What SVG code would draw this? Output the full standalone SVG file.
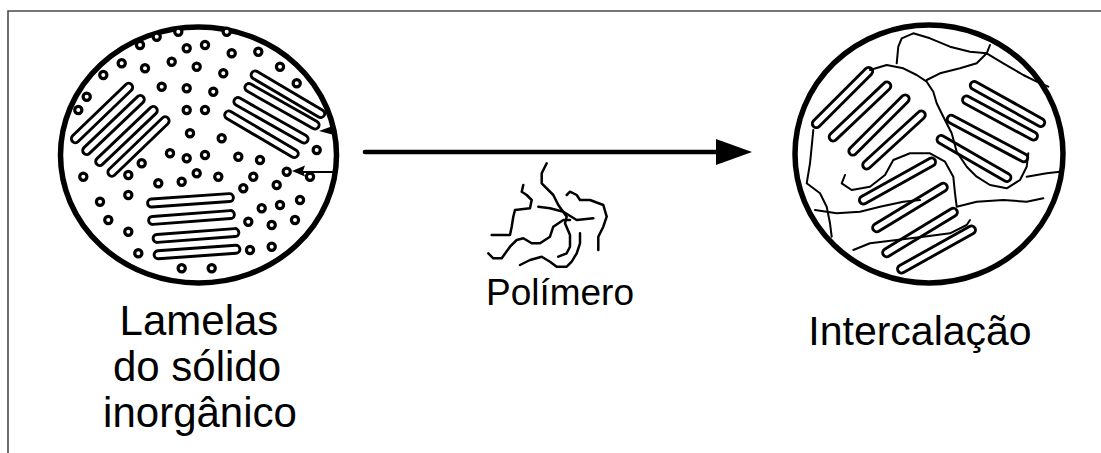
<svg xmlns="http://www.w3.org/2000/svg" width="1101" height="453" viewBox="0 0 1101 453">
  <style>
    .frame { fill: none; stroke: #4a4a4a; stroke-width: 1.6; }
    .ring { fill: #fff; stroke: #000; stroke-width: 5.5; }
    .bar { fill: #fff; stroke: #000; stroke-width: 2.9; }
    .dot { fill: #fff; stroke: #000; stroke-width: 3.2; }
    .chain { fill: none; stroke: #000; stroke-width: 2.5; stroke-linejoin: round; stroke-linecap: round; }
    .label { font-family: "Liberation Sans", Arial, sans-serif; fill: #000; text-anchor: middle; }
  </style>

  <rect width="1101" height="453" fill="#fff"/>
  <path class="frame" d="M8,453 V11 H1101"/>

  <!-- inorganic solid: stacked lamellae among loose particles -->
  <g id="solid">
    <ellipse class="ring" cx="198.5" cy="155" rx="138" ry="128"/>
    <g id="solid-stack-ul">
      <rect class="bar" x="-41" y="-4" width="82" height="8" rx="4" transform="translate(102,113) rotate(-44)"/>
      <rect class="bar" x="-41" y="-4" width="82" height="8" rx="4" transform="translate(113.5,125) rotate(-43.6)"/>
      <rect class="bar" x="-41" y="-4" width="82" height="8" rx="4" transform="translate(126.5,136) rotate(-43.6)"/>
      <rect class="bar" x="-41" y="-4" width="82" height="8" rx="4" transform="translate(138.5,146.5) rotate(-44)"/>
    </g>
    <g id="solid-stack-ur">
      <rect class="bar" x="-42" y="-4" width="84" height="8" rx="4" transform="translate(287.9,94.3) rotate(30.5)"/>
      <rect class="bar" x="-42" y="-4" width="84" height="8" rx="4" transform="translate(282,106.3) rotate(29.5)"/>
      <rect class="bar" x="-42" y="-4" width="84" height="8" rx="4" transform="translate(271,120.3) rotate(29.5)"/>
      <rect class="bar" x="-42" y="-4" width="84" height="8" rx="4" transform="translate(261.5,134.3) rotate(30.5)"/>
    </g>
    <g id="solid-stack-b">
      <rect class="bar" x="-43" y="-4" width="86" height="8" rx="4" transform="translate(190.5,200.3) rotate(-4)"/>
      <rect class="bar" x="-43" y="-4" width="86" height="8" rx="4" transform="translate(191.5,217.5) rotate(-4.3)"/>
      <rect class="bar" x="-43" y="-4" width="86" height="8" rx="4" transform="translate(196,235.5) rotate(-4.3)"/>
      <rect class="bar" x="-43" y="-4" width="86" height="8" rx="4" transform="translate(197,252) rotate(-4)"/>
    </g>
    <g id="solid-particles">
      <circle class="dot" cx="178.3" cy="31.7" r="3.6"/>
      <circle class="dot" cx="226.7" cy="31.7" r="3.6"/>
      <circle class="dot" cx="156.7" cy="36.7" r="3.6"/>
      <circle class="dot" cx="140" cy="45" r="3.6"/>
      <circle class="dot" cx="186.7" cy="48.3" r="3.6"/>
      <circle class="dot" cx="205" cy="45" r="3.6"/>
      <circle class="dot" cx="231.7" cy="53.3" r="3.6"/>
      <circle class="dot" cx="258.3" cy="51.7" r="3.6"/>
      <circle class="dot" cx="171.7" cy="61.7" r="3.6"/>
      <circle class="dot" cx="196.7" cy="66.7" r="3.6"/>
      <circle class="dot" cx="223.3" cy="73.3" r="3.6"/>
      <circle class="dot" cx="280" cy="66.7" r="3.6"/>
      <circle class="dot" cx="121.7" cy="63.3" r="3.6"/>
      <circle class="dot" cx="145" cy="68.3" r="3.6"/>
      <circle class="dot" cx="103.3" cy="75" r="3.6"/>
      <circle class="dot" cx="296.7" cy="83.3" r="3.6"/>
      <circle class="dot" cx="161.7" cy="86.7" r="3.6"/>
      <circle class="dot" cx="186.7" cy="88.3" r="3.6"/>
      <circle class="dot" cx="213.3" cy="91.7" r="3.6"/>
      <circle class="dot" cx="86.7" cy="96.7" r="3.6"/>
      <circle class="dot" cx="78.3" cy="110" r="3.6"/>
      <circle class="dot" cx="186.7" cy="110" r="3.6"/>
      <circle class="dot" cx="205" cy="110" r="3.6"/>
      <circle class="dot" cx="190" cy="133.3" r="3.6"/>
      <circle class="dot" cx="221.7" cy="138.3" r="3.6"/>
      <circle class="dot" cx="316.7" cy="150" r="3.6"/>
      <circle class="dot" cx="170" cy="153.3" r="3.6"/>
      <circle class="dot" cx="186.7" cy="158.3" r="3.6"/>
      <circle class="dot" cx="205" cy="155" r="3.6"/>
      <circle class="dot" cx="238.3" cy="156.7" r="3.6"/>
      <circle class="dot" cx="260" cy="160" r="3.6"/>
      <circle class="dot" cx="141.7" cy="163.3" r="3.6"/>
      <circle class="dot" cx="196.7" cy="173.3" r="3.6"/>
      <circle class="dot" cx="218.3" cy="176.7" r="3.6"/>
      <circle class="dot" cx="253.3" cy="176.7" r="3.6"/>
      <circle class="dot" cx="286.7" cy="171.7" r="3.6"/>
      <circle class="dot" cx="310" cy="176.7" r="3.6"/>
      <circle class="dot" cx="83.3" cy="176.7" r="3.6"/>
      <circle class="dot" cx="128.3" cy="175" r="3.6"/>
      <circle class="dot" cx="158.3" cy="183.3" r="3.6"/>
      <circle class="dot" cx="181.7" cy="181.7" r="3.6"/>
      <circle class="dot" cx="243.3" cy="188.3" r="3.6"/>
      <circle class="dot" cx="276.7" cy="185" r="3.6"/>
      <circle class="dot" cx="100" cy="201.7" r="3.6"/>
      <circle class="dot" cx="128.3" cy="195" r="3.6"/>
      <circle class="dot" cx="261.7" cy="208.3" r="3.6"/>
      <circle class="dot" cx="280" cy="205" r="3.6"/>
      <circle class="dot" cx="300" cy="200" r="3.6"/>
      <circle class="dot" cx="108.3" cy="220" r="3.6"/>
      <circle class="dot" cx="248.3" cy="221.7" r="3.6"/>
      <circle class="dot" cx="271.7" cy="225" r="3.6"/>
      <circle class="dot" cx="295" cy="220" r="3.6"/>
      <circle class="dot" cx="128.3" cy="231.7" r="3.6"/>
      <circle class="dot" cx="250" cy="250" r="3.6"/>
      <circle class="dot" cx="271.7" cy="246.7" r="3.6"/>
      <circle class="dot" cx="138.3" cy="253.3" r="3.6"/>
      <circle class="dot" cx="181.7" cy="268.3" r="3.6"/>
      <circle class="dot" cx="211.7" cy="268.3" r="3.6"/>
    </g>
    <!-- small pointers at the right rim -->
    <path d="M303,172 H336" stroke="#000" stroke-width="1.8"/>
    <path d="M292,171 L305,165.5 L303,171 L305,176.5 z" fill="#000"/>
    <path d="M319,131 L334,125.5 L336,131 L334,135 z" fill="#000"/>
  </g>

  <!-- process arrow -->
  <g id="connectors">
    <line x1="365" y1="152" x2="718" y2="152" stroke="#000" stroke-width="4.6" stroke-linecap="round"/>
    <path d="M716,139 L752,152 L716,165 z" fill="#000"/>
  </g>

  <!-- polymer chains -->
  <g id="polymer">
    <g class="chain">
      <polyline points="546.7,163.3 541.7,173.3 541.7,183.3 553.3,195 558.3,205 566.7,216.7 565,223.3 570,235 570,246.7 566.7,253.3 558.3,256.7"/>
      <polyline points="523.3,185 521.7,191.7 526.7,195 531.7,200 530,208.3 515,210 513.3,216.7 511.7,226.7 510,235 491.7,235"/>
      <polyline points="538.3,206.7 550,208.3 563.3,211.7 576.7,220 593.3,218.3"/>
      <polyline points="566.7,195 570,191.7 576.7,195 580,200 590,200 603.3,205 606.7,216.7 603.3,226.7 598.3,236.7 598.3,250"/>
      <polyline points="488.3,253.3 493.3,258.3 501.7,258.3 510,246.7 516.7,240 523.3,238.3 531.7,243.3 540,243.3 550,236.7 553.3,226.7 563.3,220 570,220"/>
      <polyline points="520,265 530,260 541.7,256.7 550,261.7 556.7,266.7 566.7,266.7 571.7,261.7 576.7,253.3 580,243.3 580,233.3"/>
    </g>
  </g>

  <!-- intercalated composite: polymer threaded between lamellae -->
  <g id="intercalated">
    <ellipse class="ring" cx="929" cy="154" rx="134" ry="129"/>
    <g id="inter-stack-ul">
      <rect class="bar" x="-41" y="-4" width="82" height="8" rx="4" transform="translate(842.5,97.5) rotate(-45)"/>
      <rect class="bar" x="-41" y="-4" width="82" height="8" rx="4" transform="translate(860,111.5) rotate(-43.5)"/>
      <rect class="bar" x="-41" y="-4" width="82" height="8" rx="4" transform="translate(879,125) rotate(-45)"/>
      <rect class="bar" x="-41" y="-4" width="82" height="8" rx="4" transform="translate(894,140) rotate(-42.5)"/>
    </g>
    <g id="inter-stack-ur">
      <rect class="bar" x="-42" y="-4" width="84" height="8" rx="4" transform="translate(1007.5,104) rotate(29.2)"/>
      <rect class="bar" x="-42" y="-4" width="84" height="8" rx="4" transform="translate(1000,118) rotate(28.4)"/>
      <rect class="bar" x="-45" y="-4" width="90" height="8" rx="4" transform="translate(987.5,138.5) rotate(28)"/>
      <rect class="bar" x="-42" y="-4" width="84" height="8" rx="4" transform="translate(974,158.5) rotate(30)"/>
    </g>
    <g id="inter-stack-b">
      <rect class="bar" x="-43" y="-4" width="86" height="8" rx="4" transform="translate(897.5,181) rotate(-29.2)"/>
      <rect class="bar" x="-43" y="-4" width="86" height="8" rx="4" transform="translate(910,207.5) rotate(-31.3)"/>
      <rect class="bar" x="-43" y="-4" width="86" height="8" rx="4" transform="translate(920,232.5) rotate(-31.3)"/>
      <rect class="bar" x="-44" y="-4" width="88" height="8" rx="4" transform="translate(936.5,249.5) rotate(-29.2)"/>
    </g>
    <g class="chain" style="stroke-width:2">
      <polyline points="896.7,63.3 898.3,46.7 901.7,38.3 913.3,33.3 930,38.3 950,46.7 970,51.7 986.7,53.3 1003.3,63.3 1023.3,75 1036.7,81.7 1048.3,86.7"/>
      <polyline points="870,70 886.7,65 903.3,68.3 916.7,75 926.7,81.7 933.3,91.7 936.7,103.3 943.3,116.7 951.7,133.3 956.7,151.7 966.7,166.7 976.7,176.7 990,185 1006.7,188.3 1020,180 1026.7,166.7 1028.3,153.3"/>
      <polyline points="926.7,80 940,73.3 960,68.3 976.7,63.3 986.7,53.3 990,45"/>
      <polyline points="813.3,130 811.7,146.7 810,163.3 806.7,183.3 820,193.3 826.7,206.7 830,223.3 831.7,236.7"/>
      <polyline points="845,175 841.7,183.3 851.7,190 870,186.7 885,175 893.3,160 910,153.3 930,153.3 945,161.7 953.3,176.7 955,193.3 956.7,206.7 976.7,201.7 1003.3,200 1026.7,201.7 1043.3,198.3"/>
      <polyline points="815,210 836.7,213.3 860,211.7 880,206.7 903.3,201.7 920,200"/>
      <polyline points="853.3,250 870,243.3 896.7,240 923.3,236.7 950,233.3 966.7,225 970,220"/>
      <polyline points="1026.7,176.7 1046.7,173.3 1060,171.7"/>
    </g>
  </g>

  <!-- labels -->
  <g id="labels">
    <text class="label" x="199" y="335" font-size="42">Lamelas</text>
    <text class="label" x="197" y="381" font-size="42">do sólido</text>
    <text class="label" x="200" y="427" font-size="42">inorgânico</text>
    <text class="label" x="560" y="305" font-size="37">Polímero</text>
    <text class="label" x="920" y="345" font-size="41">Intercalação</text>
  </g>
</svg>
